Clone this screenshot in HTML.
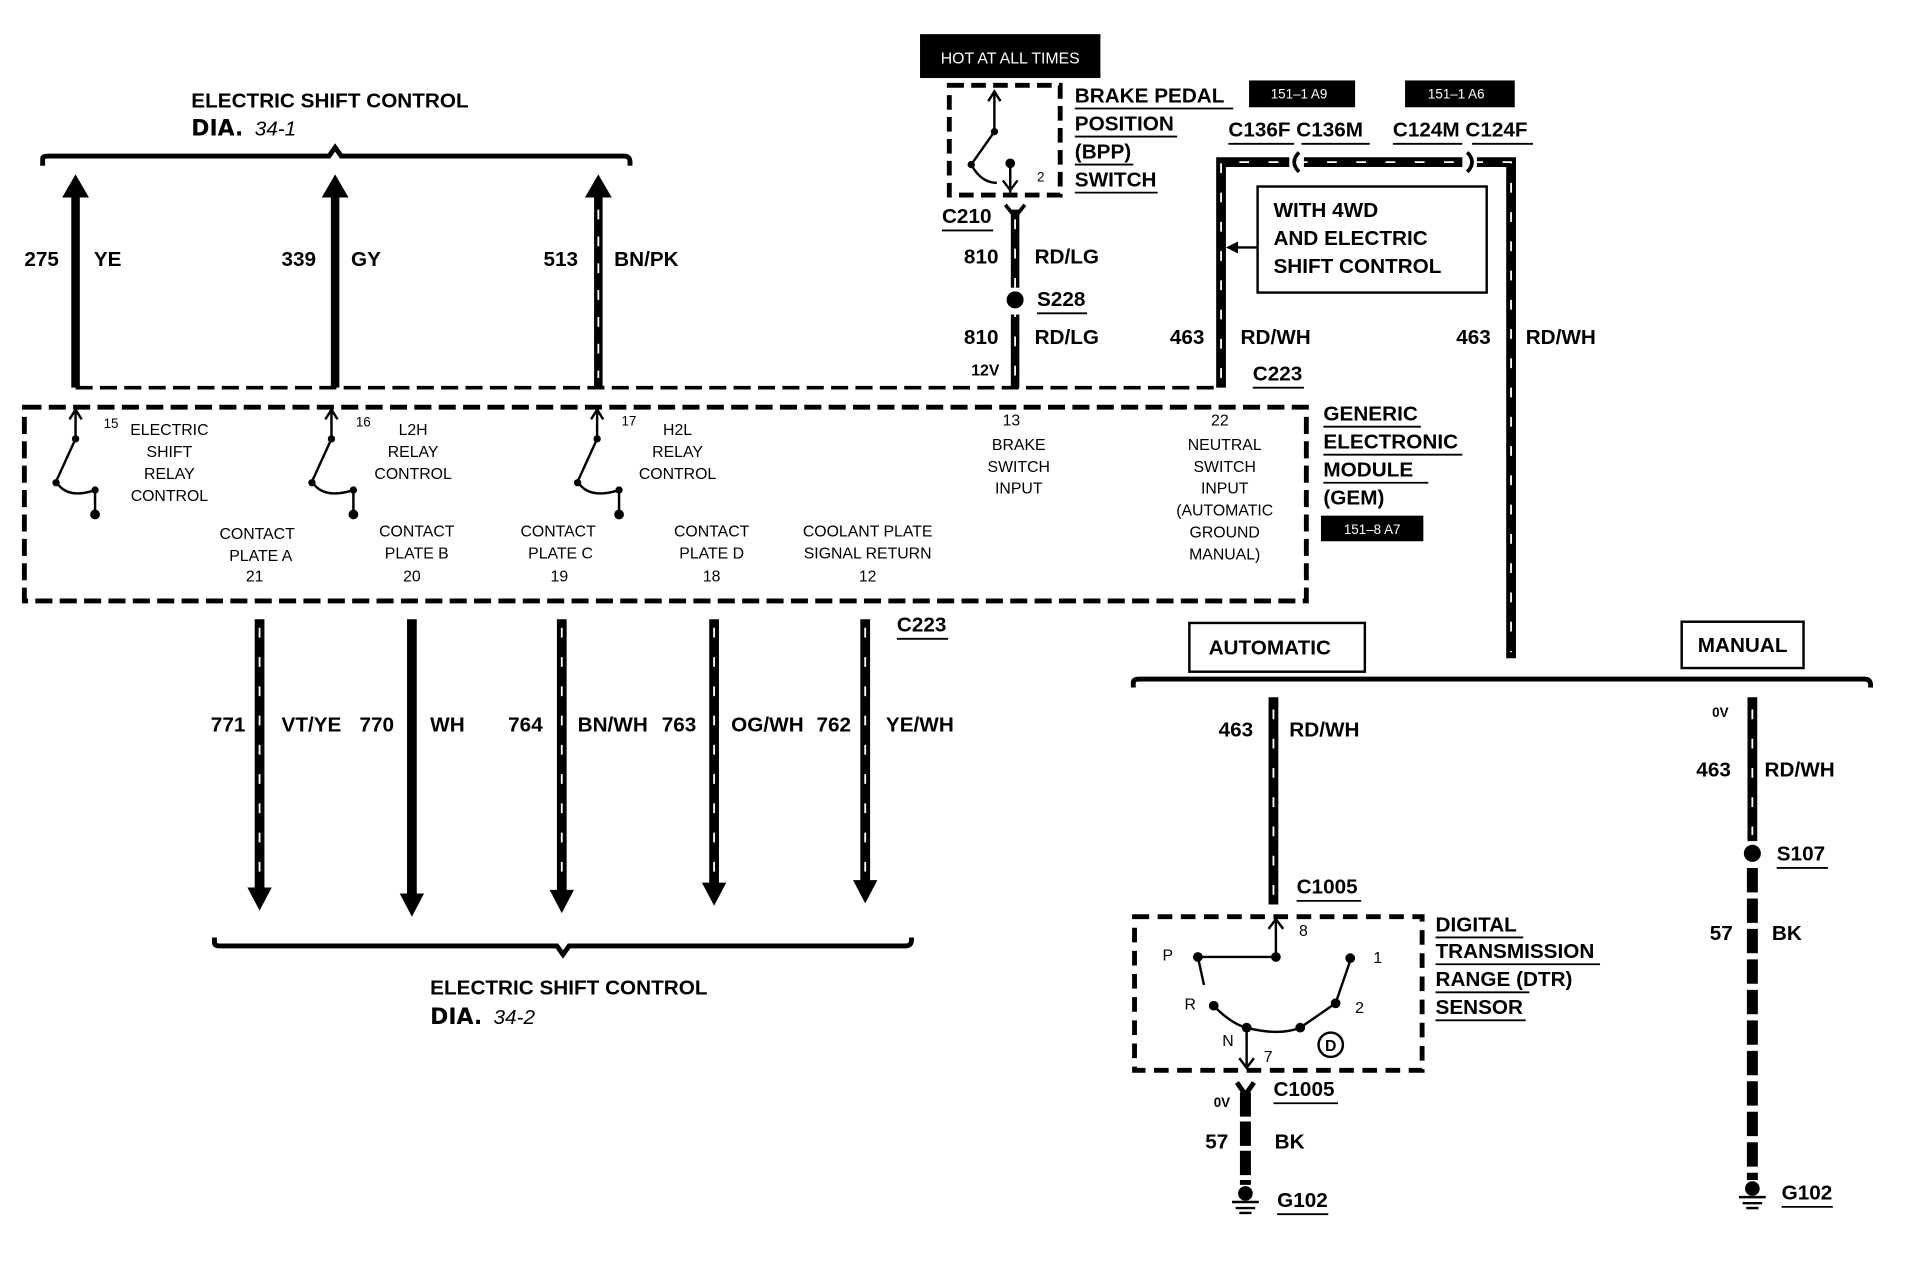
<!DOCTYPE html>
<html><head><meta charset="utf-8"><style>
html,body{margin:0;padding:0;background:#fff;width:1912px;height:1280px;overflow:hidden}
svg{display:block}
text{font-family:"Liberation Sans",Arial,sans-serif;fill:#000}
.b{font-weight:bold;font-size:17px}
.s{font-size:13px}
.xs{font-size:11px}
.w{fill:#fff}
</style></head><body>
<svg width="1912" height="1280" viewBox="0 0 1569 1050" preserveAspectRatio="none" xmlns="http://www.w3.org/2000/svg">
<!-- top title -->
<text x="157" y="88" class="b">ELECTRIC SHIFT CONTROL</text>
<text x="157" y="111" class="b" style="font-size:18px;font-family:'DejaVu Sans',sans-serif">DIA.</text>
<text x="209" y="111" style="font-size:17px;font-style:italic">34-1</text>
<path d="M35,136 V130 Q35,128 40,128 H270 L275,121 L280,128 H512 Q517,128 517,133 V136" fill="none" stroke="#000" stroke-width="4"/>
<!-- top wires -->
<g stroke="#000" stroke-width="7">
<line x1="62" y1="160" x2="62" y2="318"/><line x1="275" y1="160" x2="275" y2="318"/><line x1="491" y1="160" x2="491" y2="318"/>
</g>
<path d="M51,162 L62,143 L73,162z M264,162 L275,143 L286,162z M480,162 L491,143 L502,162z"/>
<line x1="491" y1="172" x2="491" y2="310" stroke="#fff" stroke-width="1.5" stroke-dasharray="8,14"/>
<text x="20" y="218" class="b">275</text><text x="77" y="218" class="b">YE</text>
<text x="231" y="218" class="b">339</text><text x="288" y="218" class="b">GY</text>
<text x="446" y="218" class="b">513</text><text x="504" y="218" class="b">BN/PK</text>
<line x1="62" y1="318" x2="1000" y2="318" stroke="#000" stroke-width="3" stroke-dasharray="14,6"/>
<!-- GEM box -->
<rect x="20" y="334" width="1052" height="159" fill="none" stroke="#000" stroke-width="4" stroke-dasharray="14,6"/>
<!-- switches -->
<g stroke="#000" stroke-width="2" fill="none">
<path d="M62,358 V338 M57,344 L62,336 L67,344 M62,360 L46,395 Q55,410 78,402 V420"/>
<path d="M272,358 V338 M267,344 L272,336 L277,344 M272,360 L256,395 Q265,410 290,402 V420"/>
<path d="M490,358 V338 M485,344 L490,336 L495,344 M490,360 L474,395 Q483,410 508,402 V420"/>
</g>
<g>
<circle cx="62" cy="360" r="3"/><circle cx="46" cy="396" r="3"/><circle cx="78" cy="402" r="3"/><circle cx="78" cy="422" r="4"/>
<circle cx="272" cy="360" r="3"/><circle cx="256" cy="396" r="3"/><circle cx="290" cy="402" r="3"/><circle cx="290" cy="422" r="4"/>
<circle cx="490" cy="360" r="3"/><circle cx="474" cy="396" r="3"/><circle cx="508" cy="402" r="3"/><circle cx="508" cy="422" r="4"/>
</g>
<text x="85" y="351" class="xs">15</text><text x="292" y="350" class="xs">16</text><text x="510" y="349" class="xs">17</text>
<g class="s" text-anchor="middle">
<text x="139" y="357">ELECTRIC</text><text x="139" y="375">SHIFT</text><text x="139" y="393">RELAY</text><text x="139" y="411">CONTROL</text>
<text x="339" y="357">L2H</text><text x="339" y="375">RELAY</text><text x="339" y="393">CONTROL</text>
<text x="556" y="357">H2L</text><text x="556" y="375">RELAY</text><text x="556" y="393">CONTROL</text>
<text x="211" y="442">CONTACT</text><text x="214" y="460">PLATE  A</text><text x="209" y="477">21</text>
<text x="342" y="440">CONTACT</text><text x="342" y="458">PLATE  B</text><text x="338" y="477">20</text>
<text x="458" y="440">CONTACT</text><text x="460" y="458">PLATE  C</text><text x="459" y="477">19</text>
<text x="584" y="440">CONTACT</text><text x="584" y="458">PLATE  D</text><text x="584" y="477">18</text>
<text x="712" y="440">COOLANT PLATE</text><text x="712" y="458">SIGNAL RETURN</text><text x="712" y="477">12</text>
<text x="830" y="349">13</text><text x="836" y="369">BRAKE</text><text x="836" y="387">SWITCH</text><text x="836" y="405">INPUT</text>
<text x="1001" y="349">22</text><text x="1005" y="369">NEUTRAL</text><text x="1005" y="387">SWITCH</text><text x="1005" y="405">INPUT</text><text x="1005" y="423">(AUTOMATIC</text><text x="1005" y="441">GROUND</text><text x="1005" y="459">MANUAL)</text>
</g>
<g class="b"><text x="1086" y="345">GENERIC</text><text x="1086" y="368">ELECTRONIC</text><text x="1086" y="391">MODULE</text><text x="1086" y="414">(GEM)</text></g>
<g stroke="#000" stroke-width="1.5"><line x1="1086" y1="350" x2="1166" y2="350"/><line x1="1086" y1="373" x2="1200" y2="373"/><line x1="1086" y1="396" x2="1172" y2="396"/></g>
<rect x="1084" y="423" width="84" height="21"/><text x="1126" y="438" class="xs w" text-anchor="middle">151–8 A7</text>
<!-- brake switch -->
<rect x="755" y="28" width="148" height="36"/><text x="829" y="52" class="s w" text-anchor="middle">HOT AT ALL TIMES</text>
<rect x="779" y="70" width="91" height="90" fill="none" stroke="#000" stroke-width="4" stroke-dasharray="12,6"/>
<g stroke="#000" stroke-width="2" fill="none"><path d="M816,108 V76 M811,83 L816,75 L821,83 M816,108 L797,135 Q805,150 818,150 M829,133 V158 M823,148 L829,156 L835,148"/></g>
<circle cx="816" cy="108" r="3"/><circle cx="797" cy="135" r="3"/><circle cx="829" cy="134" r="4"/>
<text x="851" y="149" class="xs">2</text>
<g class="b"><text x="882" y="84">BRAKE PEDAL</text><text x="882" y="107">POSITION</text><text x="882" y="130">(BPP)</text><text x="882" y="153">SWITCH</text></g>
<g stroke="#000" stroke-width="1.5"><line x1="882" y1="89" x2="1012" y2="89"/><line x1="882" y1="112" x2="966" y2="112"/><line x1="882" y1="135" x2="930" y2="135"/><line x1="882" y1="158" x2="950" y2="158"/></g>
<line x1="833" y1="172" x2="833" y2="318" stroke="#000" stroke-width="7"/>
<path d="M825,168 L833,178 L841,168" stroke="#000" stroke-width="3" fill="none"/>
<line x1="833" y1="180" x2="833" y2="310" stroke="#fff" stroke-width="1.5" stroke-dasharray="8,16"/>
<rect x="826" y="236" width="14" height="22" fill="#fff"/><circle cx="833" cy="246" r="7"/>
<text x="773" y="183" class="b">C210</text><line x1="773" y1="189" x2="815" y2="189" stroke="#000" stroke-width="1.5"/>
<text x="791" y="216" class="b">810</text><text x="849" y="216" class="b">RD/LG</text>
<text x="851" y="251" class="b">S228</text><line x1="851" y1="257" x2="892" y2="257" stroke="#000" stroke-width="1.5"/>
<text x="791" y="282" class="b">810</text><text x="849" y="282" class="b">RD/LG</text>
<text x="797" y="308" class="s" style="font-weight:bold">12V</text>
<!-- 463 loop -->
<path d="M1002,318 V133 H1240 V540" fill="none" stroke="#000" stroke-width="8"/>
<path d="M1002,310 V133 H1240 V535" fill="none" stroke="#fff" stroke-width="1.5" stroke-dasharray="8,16"/>
<rect x="1058" y="125" width="12" height="16" fill="#fff"/><rect x="1200" y="125" width="12" height="16" fill="#fff"/>
<path d="M1066,125 Q1058,133 1066,141 M1204,125 Q1212,133 1204,141" fill="none" stroke="#000" stroke-width="3"/>
<rect x="1025" y="66" width="87" height="22"/><text x="1066" y="81" class="xs w" text-anchor="middle">151–1 A9</text>
<rect x="1153" y="66" width="90" height="22"/><text x="1195" y="81" class="xs w" text-anchor="middle">151–1 A6</text>
<text x="1008" y="112" class="b">C136F C136M</text><text x="1143" y="112" class="b">C124M C124F</text>
<g stroke="#000" stroke-width="1.5"><line x1="1008" y1="118" x2="1062" y2="118"/><line x1="1068" y1="118" x2="1124" y2="118"/><line x1="1143" y1="118" x2="1200" y2="118"/><line x1="1208" y1="118" x2="1258" y2="118"/></g>
<rect x="1032" y="153" width="188" height="87" fill="#fff" stroke="#000" stroke-width="2"/>
<g class="b"><text x="1045" y="178">WITH 4WD</text><text x="1045" y="201">AND ELECTRIC</text><text x="1045" y="224">SHIFT CONTROL</text></g>
<line x1="1032" y1="203" x2="1014" y2="203" stroke="#000" stroke-width="2"/><path d="M1006,203 L1016,198 L1016,208z"/>
<text x="960" y="282" class="b">463</text><text x="1018" y="282" class="b">RD/WH</text>
<text x="1028" y="312" class="b">C223</text><line x1="1028" y1="318" x2="1070" y2="318" stroke="#000" stroke-width="1.5"/>
<text x="1195" y="282" class="b">463</text><text x="1252" y="282" class="b">RD/WH</text>
<!-- bus -->
<path d="M930,564 V560 Q930,557 935,557 H1530 Q1535,557 1535,562 V564" fill="none" stroke="#000" stroke-width="4"/>
<rect x="976" y="511" width="144" height="40" fill="#fff" stroke="#000" stroke-width="2"/><text x="1042" y="537" class="b" text-anchor="middle">AUTOMATIC</text>
<rect x="1380" y="510" width="100" height="38" fill="#fff" stroke="#000" stroke-width="2"/><text x="1430" y="535" class="b" text-anchor="middle">MANUAL</text>
<!-- automatic wire -->
<line x1="1045" y1="572" x2="1045" y2="742" stroke="#000" stroke-width="8"/>
<line x1="1045" y1="582" x2="1045" y2="735" stroke="#fff" stroke-width="1.5" stroke-dasharray="8,16"/>
<text x="1000" y="604" class="b">463</text><text x="1058" y="604" class="b">RD/WH</text>
<text x="1064" y="733" class="b">C1005</text><line x1="1064" y1="739" x2="1117" y2="739" stroke="#000" stroke-width="1.5"/>
<rect x="931" y="752" width="236" height="126" fill="none" stroke="#000" stroke-width="4" stroke-dasharray="12,7"/>
<g stroke="#000" stroke-width="2" fill="none">
<path d="M1047,785 V756 M1041,762 L1047,754 L1053,762 M983,785 H1047 M983,785 L988,808 M994,823 Q1010,840 1023,843 Q1050,850 1067,843 L1096,823 L1108,788"/>
<path d="M1023,843 V876 M1017,868 L1023,876 L1029,868"/>
</g>
<g><circle cx="983" cy="785" r="4"/><circle cx="1047" cy="785" r="4"/><circle cx="1108" cy="786" r="4"/><circle cx="996" cy="825" r="4"/><circle cx="1096" cy="823" r="4"/><circle cx="1023" cy="843" r="4"/><circle cx="1067" cy="843" r="4"/></g>
<circle cx="1092" cy="857" r="10" fill="none" stroke="#000" stroke-width="2"/><text x="1092" y="862" class="s" text-anchor="middle" style="font-weight:bold">D</text>
<g class="s"><text x="954" y="788">P</text><text x="1127" y="790">1</text><text x="972" y="828">R</text><text x="1112" y="831">2</text><text x="1003" y="858">N</text><text x="1037" y="871">7</text><text x="1066" y="768">8</text></g>
<g class="b"><text x="1178" y="764">DIGITAL</text><text x="1178" y="786">TRANSMISSION</text><text x="1178" y="809">RANGE (DTR)</text><text x="1178" y="832">SENSOR</text></g>
<g stroke="#000" stroke-width="1.5"><line x1="1178" y1="769" x2="1250" y2="769"/><line x1="1178" y1="791" x2="1313" y2="791"/><line x1="1178" y1="814" x2="1255" y2="814"/><line x1="1178" y1="837" x2="1252" y2="837"/></g>
<path d="M1015,888 L1022,898 L1029,888" stroke="#000" stroke-width="4" fill="none"/>
<line x1="1022" y1="896" x2="1022" y2="972" stroke="#000" stroke-width="9" stroke-dasharray="20,4"/>
<text x="996" y="908" class="xs" style="font-weight:bold">0V</text>
<text x="1045" y="899" class="b">C1005</text><line x1="1045" y1="905" x2="1098" y2="905" stroke="#000" stroke-width="1.5"/>
<text x="989" y="942" class="b">57</text><text x="1046" y="942" class="b">BK</text>
<circle cx="1022" cy="979" r="6"/><g stroke="#000" stroke-width="2"><line x1="1011" y1="986" x2="1033" y2="986"/><line x1="1014" y1="991" x2="1030" y2="991"/><line x1="1017" y1="995" x2="1027" y2="995"/></g>
<text x="1048" y="990" class="b">G102</text><line x1="1048" y1="996" x2="1090" y2="996" stroke="#000" stroke-width="1.5"/>
<!-- manual wire -->
<line x1="1438" y1="572" x2="1438" y2="690" stroke="#000" stroke-width="8"/>
<line x1="1438" y1="582" x2="1438" y2="685" stroke="#fff" stroke-width="1.5" stroke-dasharray="8,16"/>
<circle cx="1438" cy="700" r="7"/>
<line x1="1438" y1="712" x2="1438" y2="968" stroke="#000" stroke-width="9" stroke-dasharray="20,5"/>
<text x="1405" y="588" class="xs" style="font-weight:bold">0V</text>
<text x="1392" y="637" class="b">463</text><text x="1448" y="637" class="b">RD/WH</text>
<text x="1458" y="706" class="b">S107</text><line x1="1458" y1="712" x2="1500" y2="712" stroke="#000" stroke-width="1.5"/>
<text x="1403" y="771" class="b">57</text><text x="1454" y="771" class="b">BK</text>
<circle cx="1438" cy="975" r="6"/><g stroke="#000" stroke-width="2"><line x1="1427" y1="982" x2="1449" y2="982"/><line x1="1430" y1="987" x2="1446" y2="987"/><line x1="1433" y1="991" x2="1443" y2="991"/></g>
<text x="1462" y="984" class="b">G102</text><line x1="1462" y1="990" x2="1504" y2="990" stroke="#000" stroke-width="1.5"/>
<!-- bottom wires -->
<g stroke="#000" stroke-width="8">
<line x1="213" y1="508" x2="213" y2="730"/><line x1="338" y1="508" x2="338" y2="735"/><line x1="461" y1="508" x2="461" y2="732"/><line x1="586" y1="508" x2="586" y2="725"/><line x1="710" y1="508" x2="710" y2="725"/>
</g>
<g stroke="#fff" stroke-width="1.5" stroke-dasharray="8,16">
<line x1="213" y1="515" x2="213" y2="720"/><line x1="461" y1="515" x2="461" y2="720"/><line x1="586" y1="515" x2="586" y2="715"/><line x1="710" y1="515" x2="710" y2="715"/>
</g>
<path d="M203,728 L213,747 L223,728z M328,733 L338,752 L348,733z M451,730 L461,749 L471,730z M576,724 L586,743 L596,724z M700,722 L710,741 L720,722z"/>
<text x="173" y="600" class="b">771</text><text x="231" y="600" class="b">VT/YE</text>
<text x="295" y="600" class="b">770</text><text x="353" y="600" class="b">WH</text>
<text x="417" y="600" class="b">764</text><text x="474" y="600" class="b">BN/WH</text>
<text x="543" y="600" class="b">763</text><text x="600" y="600" class="b">OG/WH</text>
<text x="670" y="600" class="b">762</text><text x="727" y="600" class="b">YE/WH</text>
<text x="736" y="518" class="b">C223</text><line x1="736" y1="524" x2="778" y2="524" stroke="#000" stroke-width="1.5"/>
<path d="M176,769 V773 Q176,776 181,776 H457 L462,783 L467,776 H743 Q748,776 748,771 V769" fill="none" stroke="#000" stroke-width="4"/>
<text x="353" y="816" class="b">ELECTRIC SHIFT CONTROL</text>
<text x="353" y="840" class="b" style="font-size:18px;font-family:'DejaVu Sans',sans-serif">DIA.</text>
<text x="405" y="840" style="font-size:17px;font-style:italic">34-2</text>
</svg>
</body></html>
